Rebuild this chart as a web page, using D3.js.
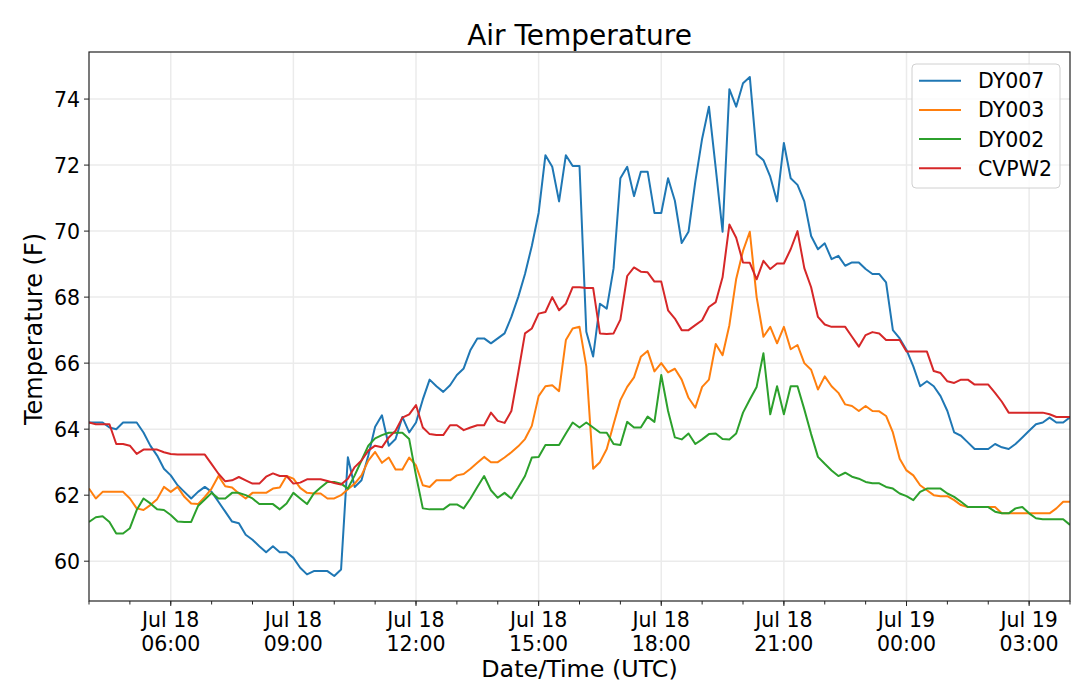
<!DOCTYPE html>
<html>
<head>
<meta charset="utf-8">
<script src="https://cdn.jsdelivr.net/npm/d3@7"></script>
<style>
  body { margin: 0; background: #fff; }
  svg text { font-family: "DejaVu Sans", sans-serif; fill: #000; }
</style>
</head>
<body>
<svg id="chart" width="1080" height="699"></svg>
<script>
// readings every 10 minutes starting Jul 18 04:00 UTC
var startTime = Date.UTC(2019, 6, 18, 4, 0);
var stepMinutes = 10;

var seriesNames = ["DY007", "DY003", "DY002", "CVPW2"];
var seriesColors = ["#1f77b4", "#ff7f0e", "#2ca02c", "#d62728"];

var dy007 = [
  64.2, 64.2, 64.2, 64.05, 64.0, 64.2, 64.2, 64.2, 63.9, 63.5,
  63.2, 62.8, 62.6, 62.3, 62.1, 61.9, 62.1, 62.25, 62.1, 61.8,
  61.5, 61.2, 61.15, 60.8, 60.65, 60.45, 60.27, 60.45, 60.27, 60.27,
  60.1, 59.8, 59.6, 59.7, 59.7, 59.7, 59.55, 59.75, 63.15, 62.25,
  62.45, 63.2, 64.07, 64.42, 63.5, 63.7, 64.37, 63.9, 64.2, 64.9,
  65.5, 65.3, 65.13, 65.33, 65.64, 65.84, 66.4, 66.75, 66.75, 66.6,
  66.75, 66.9, 67.4, 68.0, 68.7, 69.55, 70.55, 72.3, 71.95, 70.9,
  72.3, 71.97, 71.97, 66.95, 66.2, 67.8, 67.65, 68.87, 71.6, 71.95,
  71.06, 71.8, 71.8, 70.55, 70.55, 71.6, 70.92, 69.64, 69.98, 71.5,
  72.8, 73.77, 71.9, 69.98, 74.3, 73.77, 74.48, 74.67, 72.33, 72.15,
  71.65, 70.9, 72.67, 71.6, 71.4, 70.9, 69.85, 69.45, 69.63, 69.15,
  69.25, 68.95, 69.05, 69.05, 68.85, 68.7, 68.7, 68.45, 67.0, 66.75,
  66.4, 65.9, 65.3, 65.45, 65.3, 65.0, 64.55, 63.9, 63.8, 63.6,
  63.4, 63.4, 63.4, 63.55, 63.45, 63.4, 63.55, 63.75, 63.95, 64.15,
  64.2, 64.35, 64.2, 64.2, 64.36
];

var dy003 = [
  62.2, 61.9, 62.1, 62.1, 62.1, 62.1, 61.9, 61.6, 61.55, 61.7,
  61.88, 62.25, 62.1, 62.25, 61.95, 61.75, 61.73, 61.95, 62.2, 62.58,
  62.27, 62.23, 62.05, 61.9, 62.07, 62.07, 62.07, 62.2, 62.23, 62.58,
  62.5, 62.22, 62.07, 62.05, 62.05, 61.9, 61.9, 62.0, 62.18, 62.35,
  62.6, 63.05, 63.31, 62.98, 63.14, 62.78, 62.78, 63.14, 62.9, 62.3,
  62.25, 62.45, 62.45, 62.45, 62.6, 62.64, 62.8, 62.98, 63.16, 63.0,
  63.0, 63.14, 63.3, 63.48, 63.7, 64.1, 65.0, 65.3, 65.33, 65.15,
  66.7, 67.05, 67.1, 65.9, 62.8, 63.0, 63.4, 64.15, 64.88, 65.28,
  65.57, 66.19, 66.37, 65.75, 66.0, 65.72, 65.83, 65.5, 64.95, 64.65,
  65.28, 65.5, 66.58, 66.24, 67.15, 68.55, 69.4, 69.98, 68.0, 66.8,
  67.1, 66.6, 67.1, 66.42, 66.55, 66.0, 65.8, 65.2, 65.6, 65.3,
  65.1, 64.75, 64.7, 64.55, 64.7, 64.55, 64.54, 64.4, 63.9, 63.1,
  62.75, 62.6, 62.3, 62.15, 62.0, 61.97, 61.97, 61.85, 61.7, 61.64,
  61.64, 61.64, 61.64, 61.64, 61.45, 61.45, 61.45, 61.45, 61.45, 61.45,
  61.45, 61.45, 61.6, 61.8, 61.8
];

var dy002 = [
  61.19, 61.33, 61.36, 61.19, 60.84, 60.84, 61.0, 61.55, 61.9, 61.75,
  61.57, 61.55, 61.4, 61.2, 61.19, 61.19, 61.67, 61.87, 62.07, 61.9,
  61.9, 62.07, 62.07, 62.0, 61.9, 61.73, 61.73, 61.73, 61.57, 61.75,
  62.07, 61.9, 61.73, 62.05, 62.23, 62.4, 62.4, 62.35, 62.2, 62.6,
  63.05, 63.5, 63.72, 63.82, 63.89, 63.89, 63.89, 63.7, 62.6, 61.6,
  61.57, 61.57, 61.57, 61.72, 61.72, 61.6, 61.9, 62.25, 62.58, 62.15,
  61.92, 62.07, 61.9, 62.23, 62.58, 63.14, 63.16, 63.52, 63.52, 63.52,
  63.87, 64.2, 64.05, 64.2, 64.05, 63.9, 63.89, 63.55, 63.52, 64.22,
  64.05, 64.05, 64.38, 64.22, 65.64, 64.55, 63.75, 63.69, 63.87, 63.55,
  63.69, 63.85, 63.87, 63.7, 63.69, 63.87, 64.5, 64.9, 65.28, 66.3,
  64.45, 65.3, 64.45, 65.3, 65.3, 64.6, 63.85, 63.16, 62.95, 62.75,
  62.58, 62.68, 62.56, 62.5, 62.4, 62.36, 62.36, 62.25, 62.2, 62.05,
  61.97, 61.85, 62.1, 62.2, 62.2, 62.2, 62.05, 61.95, 61.8, 61.64,
  61.64, 61.64, 61.64, 61.5, 61.45, 61.45, 61.6, 61.64, 61.45, 61.3,
  61.27, 61.27, 61.27, 61.27, 61.1
];

var cvpw2 = [
  64.2, 64.15, 64.15, 64.15, 63.55, 63.55, 63.5, 63.25, 63.38, 63.38,
  63.38, 63.3, 63.25, 63.23, 63.23, 63.23, 63.23, 63.23, 62.94, 62.65,
  62.42, 62.45, 62.55, 62.45, 62.35, 62.35, 62.56, 62.66, 62.58, 62.58,
  62.35, 62.38, 62.48, 62.48, 62.48, 62.43, 62.37, 62.32, 62.5, 62.85,
  63.05, 63.35, 63.5, 63.45, 63.75, 63.95, 64.35, 64.45, 64.73, 64.05,
  63.85, 63.82, 63.82, 64.12, 64.12, 63.97, 64.05, 64.12, 64.12, 64.5,
  64.25, 64.19, 64.55, 65.7, 66.9, 67.05, 67.5, 67.55, 68.0, 67.6,
  67.8, 68.3, 68.3, 68.28, 68.28, 66.9, 66.88, 66.9, 67.32, 68.64,
  68.9, 68.77, 68.75, 68.47, 68.47, 67.6, 67.35, 67.0, 67.0, 67.15,
  67.3, 67.7, 67.85, 68.6, 70.2, 69.8, 69.05, 69.04, 68.54, 69.1,
  68.85, 69.02, 69.02, 69.45, 70.0, 68.88, 68.3, 67.4, 67.17, 67.1,
  67.1, 67.1, 66.8, 66.5, 66.85, 66.94, 66.9, 66.7, 66.7, 66.7,
  66.35, 66.35, 66.35, 66.35, 65.76, 65.7, 65.45, 65.4, 65.5, 65.5,
  65.35, 65.35, 65.35, 65.1, 64.83, 64.5, 64.5, 64.5, 64.5, 64.5,
  64.5, 64.45, 64.37, 64.37, 64.37
];

var yTicks = [60, 62, 64, 66, 68, 70, 72, 74];

var svg = d3.select("#chart");
var margin = {left: 89, right: 1070, top: 52, bottom: 601};

var allValues = [dy007, dy003, dy002, cvpw2];
var times = dy007.map(function(d, i) { return new Date(startTime + i * stepMinutes * 60000); });

var x = d3.scaleUtc()
  .domain([times[0], times[times.length - 1]])
  .range([margin.left, margin.right]);

// matplotlib style 5% margin around the data
var yMin = d3.min(allValues, function(s) { return d3.min(s); });
var yMax = d3.max(allValues, function(s) { return d3.max(s); });
var pad = (yMax - yMin) * 0.05;
var y = d3.scaleLinear()
  .domain([yMin - pad, yMax + pad])
  .range([margin.bottom, margin.top]);

// Ticks
var endTime = new Date(+times[times.length - 1] + 1);
var majorTicks = d3.utcHour.every(3).range(times[0], endTime)
  .filter(function(t) { return t > times[0]; });
var minorTicks = d3.utcHour.range(times[0], endTime);

// Grid
var grid = svg.append("g");
grid.selectAll(".gx").data(majorTicks).enter().append("line")
  .attr("x1", function(d) { return x(d); })
  .attr("x2", function(d) { return x(d); })
  .attr("y1", margin.top).attr("y2", margin.bottom)
  .attr("stroke", "#ebebeb").attr("stroke-width", 1.5);
grid.selectAll(".gy").data(yTicks).enter().append("line")
  .attr("x1", margin.left).attr("x2", margin.right)
  .attr("y1", function(d) { return y(d); })
  .attr("y2", function(d) { return y(d); })
  .attr("stroke", "#ebebeb").attr("stroke-width", 1.5);

// Lines
var line = d3.line()
  .x(function(d, i) { return x(times[i]); })
  .y(function(d) { return y(d); });

svg.append("defs").append("clipPath").attr("id", "plotClip")
  .append("rect")
  .attr("x", margin.left).attr("y", margin.top)
  .attr("width", margin.right - margin.left)
  .attr("height", margin.bottom - margin.top);

var lines = svg.append("g").attr("clip-path", "url(#plotClip)");
allValues.forEach(function(s, k) {
  lines.append("path")
    .attr("d", line(s))
    .attr("fill", "none")
    .attr("stroke", seriesColors[k])
    .attr("stroke-width", 2)
    .attr("stroke-linejoin", "round");
});

// Frame
svg.append("rect")
  .attr("x", margin.left).attr("y", margin.top)
  .attr("width", margin.right - margin.left)
  .attr("height", margin.bottom - margin.top)
  .attr("fill", "none").attr("stroke", "#222").attr("stroke-width", 1.2);

// X axis
svg.selectAll(".minor").data(minorTicks).enter().append("line")
  .attr("x1", function(d) { return x(d); })
  .attr("x2", function(d) { return x(d); })
  .attr("y1", margin.bottom).attr("y2", margin.bottom + 3.5)
  .attr("stroke", "#222").attr("stroke-width", 1);
svg.selectAll(".major").data(majorTicks).enter().append("line")
  .attr("x1", function(d) { return x(d); })
  .attr("x2", function(d) { return x(d); })
  .attr("y1", margin.bottom).attr("y2", margin.bottom + 5)
  .attr("stroke", "#222").attr("stroke-width", 1);

var fmtDay = d3.utcFormat("%b %d");
var fmtHour = d3.utcFormat("%H:%M");
majorTicks.forEach(function(t) {
  svg.append("text")
    .attr("x", x(t)).attr("y", 627)
    .attr("text-anchor", "middle").attr("font-size", 20.5)
    .text(fmtDay(t));
  svg.append("text")
    .attr("x", x(t)).attr("y", 650.5)
    .attr("text-anchor", "middle").attr("font-size", 20.5)
    .text(fmtHour(t));
});

// Y axis
yTicks.forEach(function(v) {
  svg.append("line")
    .attr("x1", margin.left - 5).attr("x2", margin.left)
    .attr("y1", y(v)).attr("y2", y(v))
    .attr("stroke", "#222").attr("stroke-width", 1);
  svg.append("text")
    .attr("x", margin.left - 9).attr("y", y(v) + 8)
    .attr("text-anchor", "end").attr("font-size", 20.5)
    .text(v);
});

// Titles
svg.append("text")
  .attr("x", (margin.left + margin.right) / 2).attr("y", 44.5)
  .attr("text-anchor", "middle").attr("font-size", 28)
  .text("Air Temperature");
svg.append("text")
  .attr("x", (margin.left + margin.right) / 2).attr("y", 677)
  .attr("text-anchor", "middle").attr("font-size", 23.8)
  .text("Date/Time (UTC)");
svg.append("text")
  .attr("transform", "translate(42," + 329 + ") rotate(-90)")
  .attr("text-anchor", "middle").attr("font-size", 24)
  .text("Temperature (F)");

// Legend
var legend = svg.append("g");
legend.append("rect")
  .attr("x", 912).attr("y", 64)
  .attr("width", 148).attr("height", 124)
  .attr("rx", 4).attr("ry", 4)
  .attr("fill", "#fff").attr("fill-opacity", 0.8)
  .attr("stroke", "#d0d0d0").attr("stroke-width", 1);
seriesNames.forEach(function(name, k) {
  var rowY = 80.7 + k * 29.2;
  legend.append("line")
    .attr("x1", 919).attr("x2", 961)
    .attr("y1", rowY).attr("y2", rowY)
    .attr("stroke", seriesColors[k]).attr("stroke-width", 2);
  legend.append("text")
    .attr("x", 978).attr("y", rowY + 7.5)
    .attr("font-size", 20.5)
    .text(name);
});
</script>
</body>
</html>
